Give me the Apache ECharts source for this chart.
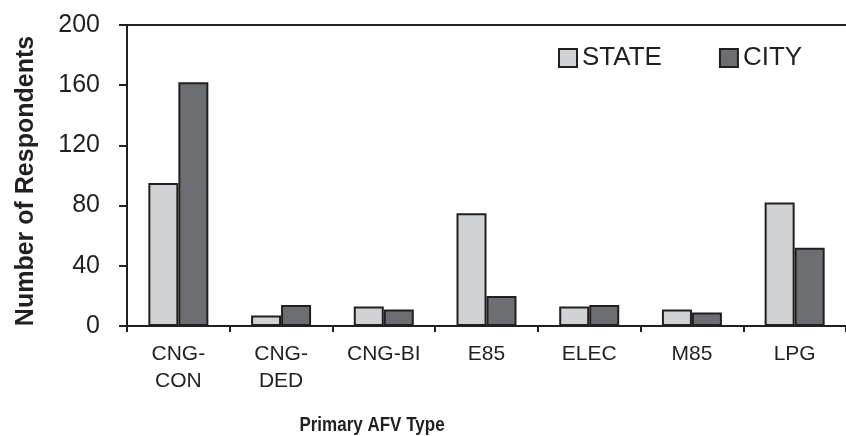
<!DOCTYPE html>
<html>
<head>
<meta charset="utf-8">
<script src="https://cdn.jsdelivr.net/npm/echarts@6/dist/echarts.min.js"></script>
<style>html,body{margin:0;padding:0;background:#fff}#c{width:846px;height:436px}</style>
</head>
<body>
<div id="c"></div>
<script>
const categories = ['CNG-\nCON', 'CNG-\nDED', 'CNG-BI', 'E85', 'ELEC', 'M85', 'LPG'];
const stateValues = [95, 7, 13, 75, 13, 11, 82];
const cityValues = [162, 14, 11, 20, 14, 9, 52];
const yTicks = [0, 40, 80, 120, 160, 200];

const ink = '#231f20';
const font = '"Liberation Sans", Arial, sans-serif';
const chart = echarts.init(document.getElementById('c'), null, {renderer: 'canvas'});
chart.setOption({
  animation: false,
  textStyle: {fontFamily: font, color: ink},
  grid: {left: 127, top: 25, width: 725, bottom: 110, containLabel: false},
  legend: {
    data: ['STATE', 'CITY'],
    left: 553, top: 40,
    icon: 'rect', itemWidth: 18, itemHeight: 18, itemGap: 57,
    textStyle: {fontFamily: font, fontSize: 26, color: ink}
  },
  xAxis: [{
    type: 'category', data: categories,
    axisLine: {lineStyle: {color: ink, width: 2}},
    axisTick: {show: true, length: 6, lineStyle: {color: ink, width: 2}},
    axisLabel: {fontFamily: font, fontSize: 21, color: ink, margin: 15, lineHeight: 27, interval: 0}
  }, {
    type: 'category', position: 'top', data: categories,
    axisLine: {lineStyle: {color: ink, width: 2}},
    axisTick: {show: false}, axisLabel: {show: false}
  }],
  yAxis: {
    type: 'value', min: 0, max: 200, interval: 40,
    axisLine: {show: true, lineStyle: {color: ink, width: 2}},
    axisTick: {show: true, length: 8, lineStyle: {color: ink, width: 2}},
    axisLabel: {fontFamily: font, fontSize: 25, color: ink, margin: 27,
      formatter: v => yTicks.includes(v) ? String(v) : ''},
    splitLine: {show: false}
  },
  graphic: [{
    type: 'text', x: 372, y: 425, scaleY: 1.22,
    style: {text: 'Primary AFV Type', fontFamily: font, fontSize: 17, fontWeight: 'bold', fill: ink,
      align: 'center', verticalAlign: 'middle'}
  }, {
    type: 'text', x: 26, y: 181, rotation: Math.PI / 2,
    style: {text: 'Number of Respondents', fontFamily: font, fontSize: 25, fontWeight: 'bold', fill: ink,
      align: 'center', verticalAlign: 'middle'}
  }],
  series: [{
    name: 'STATE', type: 'bar', data: stateValues, barWidth: 30, barGap: '0%',
    itemStyle: {color: '#d1d2d4', borderColor: ink, borderWidth: 2}
  }, {
    name: 'CITY', type: 'bar', data: cityValues, barWidth: 30, barGap: '0%',
    itemStyle: {color: '#6d6e71', borderColor: ink, borderWidth: 2}
  }]
});
</script>
</body>
</html>
